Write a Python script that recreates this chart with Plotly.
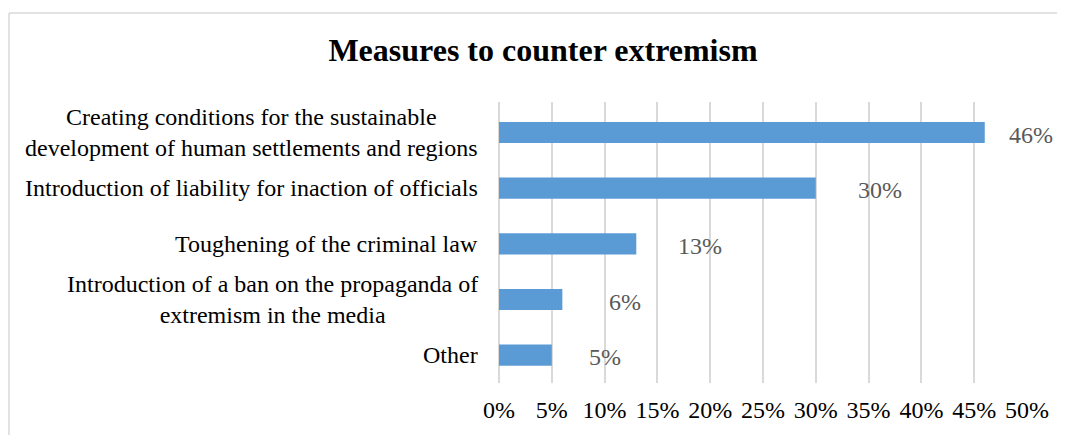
import plotly.graph_objects as go

categories = [
    "Creating conditions for the sustainable<br>development of human settlements and regions",
    "Introduction of liability for inaction of officials",
    "Toughening of the criminal law",
    "Introduction of a ban on the propaganda of<br>extremism in the media",
    "Other",
]
values = [46, 30, 13, 6, 5]
value_labels = ["46%", "30%", "13%", "6%", "5%"]
tick_values = [0, 5, 10, 15, 20, 25, 30, 35, 40, 45, 50]
tick_labels = ["0%", "5%", "10%", "15%", "20%", "25%", "30%", "35%", "40%", "45%", "50%"]

# per-label horizontal pixel offsets (style only)
label_xshift = [46, 64, 64, 63, 53]

FONT = "Liberation Serif, Times New Roman, serif"
OFF = 8  # page body margin
W, H = 1065 - OFF, 435 - OFF
ML, MR, MT, MB = 499 - OFF, 38, 101.5 - OFF, 48
PW, PH = W - ML - MR, H - MT - MB

fig = go.Figure()
fig.add_trace(go.Bar(
    x=values, y=categories, orientation="h",
    marker=dict(color="#5B9BD5", line=dict(width=0)),
    width=0.38, hoverinfo="skip",
))

annotations = []
for c, v, t, dx in zip(categories, values, value_labels, label_xshift):
    annotations.append(dict(x=v, y=c, xref="x", yref="y", text=t, showarrow=False,
                            xanchor="center", yanchor="middle", xshift=dx, yshift=-2,
                            font=dict(family=FONT, size=24, color="#595959")))
    annotations.append(dict(x=0, y=c, xref="paper", yref="y", text=c, showarrow=False,
                            xanchor="right", yanchor="middle", align="center", xshift=-19,
                            font=dict(family=FONT, size=24, color="#000000")))

def px_to_paper_x(px):
    return (px - OFF - ML) / PW

def px_to_paper_y(py):
    return (H - MB - (py - OFF)) / PH

shapes = [
    dict(type="line", xref="paper", yref="paper",
         x0=px_to_paper_x(9), x1=px_to_paper_x(9), y0=px_to_paper_y(11), y1=px_to_paper_y(440),
         line=dict(color="#D9D9D9", width=1.5)),
    dict(type="line", xref="paper", yref="paper",
         x0=px_to_paper_x(9), x1=px_to_paper_x(1070), y0=px_to_paper_y(11), y1=px_to_paper_y(11),
         line=dict(color="#D9D9D9", width=1.5)),
]

fig.update_layout(
    width=W, height=H,
    margin=dict(l=ML, r=MR, t=MT, b=MB, pad=0),
    paper_bgcolor="white", plot_bgcolor="white",
    showlegend=False,
    title=dict(text="<b>Measures to counter extremism</b>", x=(543 - OFF) / W, xref="container",
               xanchor="center", y=1 - (50 - OFF) / H, yref="container", yanchor="middle",
               font=dict(family=FONT, size=32, color="#000000")),
    xaxis=dict(range=[0, 50], tickvals=tick_values, ticktext=tick_labels,
               showgrid=True, gridcolor="#D9D9D9", gridwidth=1.5,
               zeroline=True, zerolinecolor="#D9D9D9", zerolinewidth=1.5,
               showline=False, ticks="", ticklabelstandoff=10,
               tickfont=dict(family=FONT, size=24, color="#000000")),
    yaxis=dict(autorange="reversed", showticklabels=False, showgrid=False,
               zeroline=False, showline=False, ticks=""),
    annotations=annotations,
    shapes=shapes,
)

fig.write_html("out.html")
